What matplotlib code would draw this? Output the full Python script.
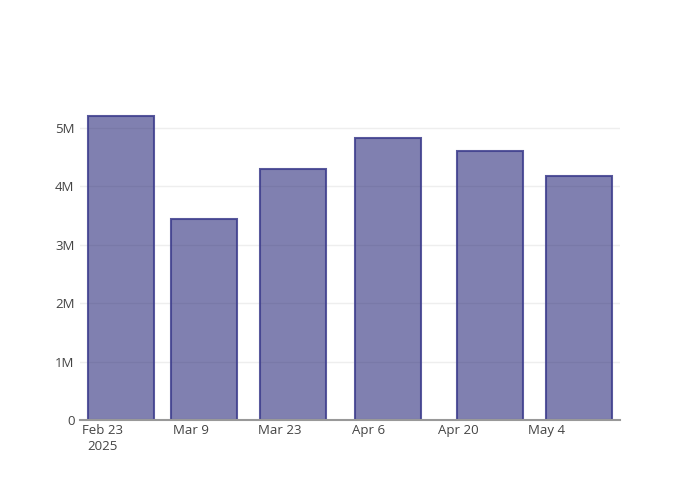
import pandas as pd
import matplotlib.pyplot as plt

plt.rcParams["font.family"] = ["Open Sans", "DejaVu Sans"]

# Data
dates = ["2025-02-26", "2025-03-11", "2025-03-25", "2025-04-09", "2025-04-25", "2025-05-09"]
values = [5.20e6, 3.44e6, 4.30e6, 4.83e6, 4.61e6, 4.18e6]

tick_dates = ["2025-02-23", "2025-03-09", "2025-03-23", "2025-04-06", "2025-04-20", "2025-05-04"]
tick_labels = ["Feb 23\n2025", "Mar 9", "Mar 23", "Apr 6", "Apr 20", "May 4"]

x = pd.to_datetime(dates)
ticks = pd.to_datetime(tick_dates)

fig = plt.figure(figsize=(7, 5), dpi=100)
ax = fig.add_axes([80 / 700, 80 / 500, 540 / 700, 320 / 500])

ax.bar(
    x,
    values,
    width=10.4,
    color=(25 / 255, 25 / 255, 112 / 255, 0.55),
    edgecolor=(60 / 255, 60 / 255, 140 / 255, 0.85),
    linewidth=1.5,
    zorder=3,
)

ax.set_xlim(pd.Timestamp("2025-02-19 12:00"), pd.Timestamp("2025-05-15 12:00"))
ax.set_ylim(0, 5.48e6)

ax.set_xticks(ticks)
ax.set_xticklabels(tick_labels, color="#444444", fontsize=9.5, linespacing=1.3)
ax.set_yticks([0, 1e6, 2e6, 3e6, 4e6, 5e6])
ax.set_yticklabels(["0", "1M", "2M", "3M", "4M", "5M"], color="#444444", fontsize=9.5)

ax.grid(axis="y", color="#eeeeee", linewidth=1, zorder=0)
ax.tick_params(axis="x", length=0, pad=3)
ax.tick_params(axis="y", length=0, pad=4)

for side in ["top", "right", "left"]:
    ax.spines[side].set_visible(False)
ax.spines["bottom"].set_color("#999999")
ax.spines["bottom"].set_linewidth(1.5)
ax.spines["bottom"].set_zorder(4)

fig.savefig("out.png", dpi=100)
